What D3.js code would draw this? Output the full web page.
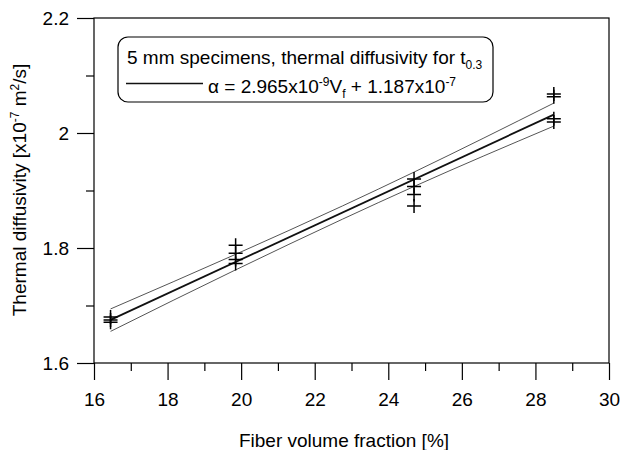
<!DOCTYPE html>
<html><head><meta charset="utf-8">
<script src="https://cdn.jsdelivr.net/npm/d3@7"></script>
<style>body{margin:0;background:#fff}svg{display:block}text{font-family:"Liberation Sans",Arial,Helvetica,sans-serif;fill:#000}</style>
</head><body><svg id="c" width="621" height="450"></svg>
<script>
// data
const ptX = [16.45,16.45,16.45, 19.85,19.85,19.85,19.85, 24.7,24.7,24.7,24.7, 28.5,28.5,28.5,28.5];
const ptY = [1.680,1.675,1.671, 1.805,1.791,1.780,1.773, 1.920,1.907,1.893,1.873, 2.068,2.063,2.025,2.019];
const fitX = [16.45, 28.5];
const fitY = [1.675, 2.032];
const bandX = [16.45, 19.85, 22.75, 24.7, 28.5];
const bandUpper = [1.694, 1.789, 1.873, 1.932, 2.052];
const bandLower = [1.655, 1.762, 1.850, 1.907, 2.012];
const xMajor = [16,18,20,22,24,26,28,30];
const xMinor = [17,19,21,23,25,27,29];
const yMajor = [1.6,1.8,2.0,2.2];
const yMinor = [1.7,1.9,2.1];

const W=621,H=450, m={l:94,t:18,r:12,b:87};
const svg=d3.select('#c');
const x=d3.scaleLinear().domain([16,30]).range([m.l,W-m.r]);
const y=d3.scaleLinear().domain([1.6,2.2]).range([H-m.b,m.t]);
const FS=19, SS=12;

// frame
svg.append('rect').attr('x',m.l).attr('y',m.t).attr('width',W-m.r-m.l).attr('height',H-m.b-m.t)
  .attr('fill','none').attr('stroke','#000').attr('stroke-width',1.2);

function styleAxis(g){g.select('.domain').remove();g.selectAll('line').attr('stroke','#000').attr('stroke-width',1.2);
  g.selectAll('text').style('font-size',FS+'px').attr('fill','#000');}
svg.append('g').attr('transform',`translate(0,${H-m.b})`)
  .call(d3.axisBottom(x).tickValues(xMajor).tickSize(17).tickPadding(13).tickFormat(d3.format('~g'))).call(styleAxis);
svg.append('g').attr('transform',`translate(0,${H-m.b})`)
  .call(d3.axisBottom(x).tickValues(xMinor).tickSize(8).tickFormat('')).call(styleAxis);
svg.append('g').attr('transform',`translate(${m.l},0)`)
  .call(d3.axisLeft(y).tickValues(yMajor).tickSize(17).tickPadding(8).tickFormat(d3.format('~g'))).call(styleAxis);
svg.append('g').attr('transform',`translate(${m.l},0)`)
  .call(d3.axisLeft(y).tickValues(yMinor).tickSize(8).tickFormat('')).call(styleAxis);

// bands
const bl=d3.line().x((d,i)=>x(bandX[i])).y(d=>y(d)).curve(d3.curveMonotoneX);
[bandUpper,bandLower].forEach(b=>svg.append('path').attr('d',bl(b)).attr('fill','none').attr('stroke','#555').attr('stroke-width',1));
// fit
svg.append('path').attr('d',d3.line().x((d,i)=>x(fitX[i])).y(d=>y(d))(fitY)).attr('fill','none').attr('stroke','#111').attr('stroke-width',1.8);
// points (plus markers)
const pg=svg.append('g');
ptX.forEach((px,i)=>{
  const cx=x(px), cy=y(ptY[i]), s=7;
  pg.append('path').attr('d',`M${cx-s},${cy}H${cx+s}M${cx},${cy-s}V${cy+s}`).attr('stroke','#000').attr('stroke-width',1.5).attr('fill','none');
});

// legend
svg.append('rect').attr('x',118).attr('y',37).attr('width',375).attr('height',65).attr('rx',10)
  .attr('fill','#fff').attr('stroke','#000').attr('stroke-width',1.2);
const t1=svg.append('text').attr('x',127).attr('y',64).style('font-size',FS+'px');
t1.append('tspan').text('5 mm specimens, thermal diffusivity for t');
t1.append('tspan').text('0.3').style('font-size',SS+'px').attr('dy',5);
svg.append('line').attr('x1',126).attr('x2',203).attr('y1',83.5).attr('y2',83.5).attr('stroke','#111').attr('stroke-width',1.3);
const t2=svg.append('text').attr('x',208).attr('y',93).style('font-size',FS+'px');
t2.append('tspan').text('\u03b1 = 2.965x10');
t2.append('tspan').text('-9').style('font-size',SS+'px').attr('dy',-7);
t2.append('tspan').text('V').attr('dy',7);
t2.append('tspan').text('f').style('font-size',SS+'px').attr('dy',5);
t2.append('tspan').text(' + 1.187x10').attr('dy',-5);
t2.append('tspan').text('-7').style('font-size',SS+'px').attr('dy',-7);

// axis titles
svg.append('text').attr('x',344).attr('y',447).attr('text-anchor','middle').style('font-size',FS+'px').text('Fiber volume fraction [%]');
const yt=svg.append('text').attr('transform',`translate(26,190) rotate(-90)`).attr('text-anchor','middle').style('font-size',FS+'px');
yt.append('tspan').text('Thermal diffusivity [x10');
yt.append('tspan').text('-7').style('font-size',SS+'px').attr('dy',-7);
yt.append('tspan').text(' m').attr('dy',7);
yt.append('tspan').text('2').style('font-size',SS+'px').attr('dy',-7);
yt.append('tspan').text('/s]').attr('dy',7);
</script></body></html>
